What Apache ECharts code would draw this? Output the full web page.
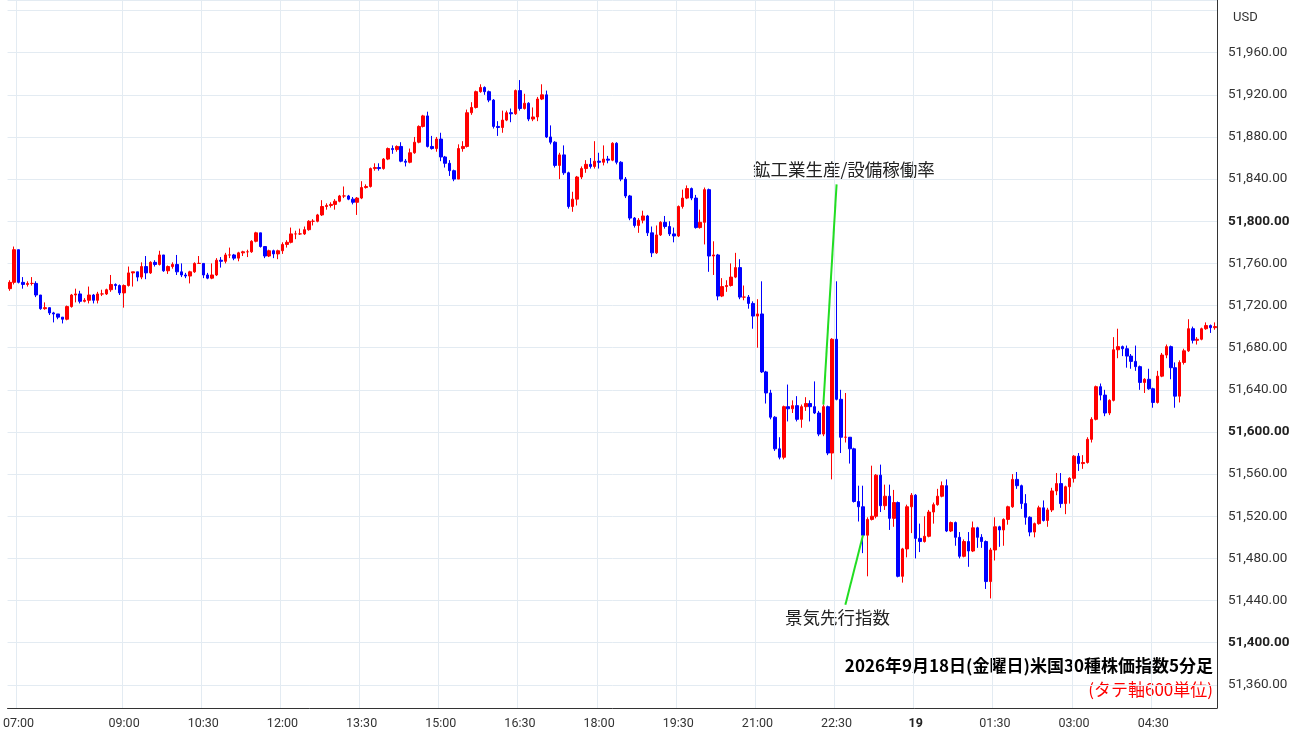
<!DOCTYPE html>
<html>
<head>
<meta charset="utf-8">
<script src="https://cdn.jsdelivr.net/npm/echarts@6/dist/echarts.min.js"></script>
<style>
  html, body { margin: 0; padding: 0; background: #fff; }
  #main { width: 1300px; height: 745px; }
</style>
</head>
<body>
<div id="main"></div>
<script>
// 5分足 06:50 から
var startTime = '06:50'
var firstOpen = 51736
var closes = [
  51742,51773,51742,51740,51741,51741,51730,51717,51718,51713,51712,51709,51707,51719,51730,51731,51724,51725,51730,51725,51731,51731,51735,51740,51739,51732,51739,51751,51752,51747,51757,51751,51761,51759,51768,51753,51757,51759,51752,51749,51748,51752,51760,51760,51749,51746,51749,51763,
  51762,51768,51768,51765,51770,51771,51771,51781,51789,51776,51767,51772,51769,51772,51778,51780,51788,51788,51788,51792,51800,51800,51806,51814,51815,51816,51819,51824,51824,51821,51818,51822,51832,51833,51850,51851,51850,51859,51869,51868,51871,51857,51856,51865,51875,51890,51900,51871,
  51869,51878,51861,51855,51848,51840,51869,51871,51903,51908,51923,51927,51923,51915,51890,51889,51896,51903,51902,51924,51907,51912,51897,51899,51916,51920,51880,51875,51853,51863,51846,51814,51821,51842,51850,51854,51852,51857,51856,51859,51858,51874,51856,51840,51824,51803,51796,51801,
  51805,51789,51770,51787,51799,51795,51788,51786,51814,51822,51831,51822,51794,51799,51830,51767,51768,51729,51738,51739,51747,51756,51728,51728,51722,51710,51712,51657,51637,51614,51584,51576,51624,51622,51625,51612,51624,51627,51624,51618,51598,51624,51580,51688,51631,51595,51595,
  51584,51534,51529,51502,51517,51520,51559,51530,51539,51518,51533,51463,51489,51529,51540,51499,51496,51501,51524,51531,51539,51549,51506,51514,51500,51482,51496,51487,51509,51500,51496,51458,51488,51510,51507,51517,51529,51555,51549,51532,51519,51505,51513,51528,51516,51526,51544,51551,
  51532,51548,51556,51577,51570,51571,51593,51612,51643,51635,51618,51630,51678,51681,51679,51672,51667,51662,51647,51650,51641,51628,51653,51673,51681,51661,51634,51666,51677,51698,51687,51688,51698,51701,51699,51700
]
var highs = [
  51744,51776,51773,51747,51743,51747,51743,51730,51723,51718,51714,51712,51709,51720,51731,51736,51734,51727,51738,51731,51733,51735,51736,51749,51741,51740,51740,51757,51752,51752,51761,51767,51762,51763,51772,51768,51758,51761,51768,51760,51751,51753,51761,51767,51760,51751,51760,51765,
  51766,51770,51775,51769,51771,51772,51773,51782,51790,51789,51776,51773,51773,51773,51780,51782,51794,51791,51793,51795,51801,51802,51807,51820,51817,51818,51821,51825,51833,51825,51823,51823,51838,51835,51851,51855,51855,51860,51870,51872,51872,51875,51859,51869,51880,51891,51901,51904,
  51881,51880,51884,51862,51858,51849,51873,51876,51906,51913,51924,51930,51928,51924,51916,51895,51905,51905,51907,51925,51934,51921,51913,51908,51918,51930,51924,51891,51876,51865,51872,51847,51828,51843,51852,51858,51860,51876,51865,51872,51862,51875,51875,51857,51842,51825,51804,51803,
  51810,51806,51795,51796,51800,51805,51800,51794,51815,51830,51834,51832,51825,51811,51832,51831,51781,51769,51746,51744,51760,51770,51764,51739,51730,51724,51726,51743,51658,51640,51615,51595,51625,51645,51630,51634,51626,51633,51630,51648,51620,51626,51625,51689,51743,51640,51637,
  51595,51585,51549,51549,51519,51568,51560,51569,51550,51550,51545,51534,51490,51531,51542,51541,51513,51520,51526,51533,51546,51553,51555,51515,51515,51505,51498,51505,51515,51510,51503,51497,51490,51519,51511,51518,51530,51560,51562,51550,51541,51520,51514,51530,51535,51528,51547,51561,
  51561,51549,51557,51578,51580,51578,51595,51614,51644,51646,51640,51631,51690,51698,51682,51682,51674,51682,51663,51651,51660,51642,51658,51675,51683,51682,51666,51668,51679,51707,51700,51690,51699,51704,51702,51704
]
var lows = [
  51734,51740,51741,51736,51738,51739,51728,51716,51716,51711,51704,51707,51703,51706,51718,51723,51722,51723,51722,51722,51722,51729,51730,51733,51735,51730,51718,51738,51738,51743,51745,51745,51750,51757,51758,51752,51750,51755,51749,51747,51746,51741,51751,51760,51746,51745,51745,51748,
  51756,51760,51765,51763,51762,51767,51766,51770,51780,51775,51765,51766,51765,51764,51769,51775,51779,51783,51787,51787,51791,51796,51799,51805,51811,51813,51811,51818,51822,51820,51816,51806,51821,51831,51832,51848,51848,51849,51858,51864,51866,51856,51852,51855,51864,51874,51889,51870,
  51868,51866,51857,51851,51843,51838,51840,51866,51870,51901,51907,51922,51920,51913,51888,51881,51884,51895,51894,51901,51905,51906,51895,51895,51895,51915,51879,51873,51851,51840,51844,51812,51809,51815,51840,51846,51850,51850,51850,51853,51855,51857,51854,51838,51822,51801,51794,51789,
  51798,51786,51766,51769,51786,51793,51786,51780,51785,51812,51821,51820,51793,51793,51778,51752,51749,51725,51728,51733,51738,51746,51726,51725,51717,51698,51680,51656,51627,51612,51582,51574,51574,51610,51618,51610,51604,51620,51610,51617,51596,51596,51578,51555,51630,51580,51590,
  51570,51533,51515,51485,51463,51516,51518,51524,51526,51507,51510,51462,51457,51481,51504,51480,51486,51495,51500,51513,51530,51538,51505,51505,51492,51480,51481,51472,51486,51490,51490,51451,51442,51478,51491,51492,51512,51528,51546,51527,51512,51501,51500,51512,51515,51510,51524,51540,
  51528,51522,51532,51552,51563,51565,51570,51590,51611,51630,51615,51616,51629,51670,51672,51661,51660,51658,51640,51637,51640,51623,51627,51652,51670,51650,51623,51628,51664,51676,51684,51683,51687,51697,51694,51697
]
var shownTimes = ['07:00', '09:00', '10:30', '12:00', '13:30', '15:00', '16:30', '18:00', '19:30', '21:00', '22:30', '00:00', '01:30', '03:00', '04:30']
var yMin = 51338
var yMax = 52010
var topLabel = 51960

var times = []
var ohlc = []
var sh = parseInt(startTime.slice(0, 2)) * 60 + parseInt(startTime.slice(3))
for (var i = 0; i < closes.length; i++) {
  var m = (sh + i * 5) % 1440
  times.push(('0' + Math.floor(m / 60)).slice(-2) + ':' + ('0' + (m % 60)).slice(-2))
  var o = i === 0 ? firstOpen : closes[i - 1]
  ohlc.push([o, closes[i], lows[i], highs[i]])
}

function fmt(v) {
  return v.toLocaleString('en-US', { minimumFractionDigits: 2, maximumFractionDigits: 2 })
}

var chart = echarts.init(document.getElementById('main'))
chart.setOption({
  animation: false,
  backgroundColor: '#fff',
  grid: { left: 4, right: 83, top: 0, bottom: 37 },
  xAxis: {
    type: 'category',
    data: times,
    boundaryGap: true,
    axisLine: { lineStyle: { color: '#333' } },
    axisTick: { show: false },
    axisLabel: {
      interval: function (idx, val) { return shownTimes.indexOf(val) >= 0 },
      formatter: function (val) { return val === '00:00' ? '{b|19}' : val },
      rich: { b: { fontWeight: 'bold', fontSize: 12.5, color: '#222' } },
      color: '#333', fontSize: 12.5, margin: 9, fontFamily: 'Roboto'
    },
    splitLine: {
      show: true,
      interval: function (idx, val) { return shownTimes.indexOf(val) >= 0 },
      lineStyle: { color: '#e3ebf2' }
    }
  },
  yAxis: {
    type: 'value',
    position: 'right',
    min: yMin,
    max: yMax,
    minInterval: 40,
    maxInterval: 40,
    axisLine: { show: true, lineStyle: { color: '#333' } },
    axisTick: { show: false },
    axisLabel: {
      margin: 11,
      showMinLabel: false,
      showMaxLabel: false,
      color: '#333',
      fontSize: 13.5,
      fontFamily: 'Roboto',
      formatter: function (v) {
        if (v > topLabel) return ''
        return v % 200 === 0 ? '{b|' + fmt(v) + '}' : fmt(v)
      },
      rich: { b: { fontWeight: 'bold', fontSize: 13.5, color: '#222', fontFamily: 'Roboto' } }
    },
    splitLine: { lineStyle: { color: '#e3ebf2' } }
  },
  series: [{
    type: 'candlestick',
    data: ohlc,
    barWidth: 3,
    itemStyle: {
      color: '#ff0000',
      color0: '#0000ff',
      borderColor: '#ff0000',
      borderColor0: '#0000ff',
      borderWidth: 1
    },
    markLine: {
      symbol: 'none',
      silent: true,
      lineStyle: { color: '#22dd22', width: 2, type: 'solid' },
      label: { show: false },
      data: [
        [{ coord: [185, 51626] }, { coord: [188.1, 51835] }],
        [{ coord: [194, 51502] }, { coord: [190, 51436] }]
      ]
    }
  }],
  graphic: [
    { type: 'text', left: 1233, top: 11, style: { text: 'USD', fill: '#333', font: '13px Roboto' } },
    { type: 'text', left: 753, top: 161, style: { text: '鉱工業生産/設備稼働率', fill: '#222', font: '17.5px "Noto Sans CJK JP"' } },
    { type: 'text', left: 785, top: 609, style: { text: '景気先行指数', fill: '#222', font: '17.5px "Noto Sans CJK JP"' } },
    { type: 'text', right: 87, top: 657, style: { text: '2026年9月18日(金曜日)米国30種株価指数5分足', fill: '#000', font: 'bold 17px "Noto Sans CJK JP"', textAlign: 'right' } },
    { type: 'text', right: 87, top: 681, style: { text: '(タテ軸600単位)', fill: '#ff0000', font: '17px "Noto Sans CJK JP"', textAlign: 'right' } }
  ]
})
</script>
</body>
</html>
